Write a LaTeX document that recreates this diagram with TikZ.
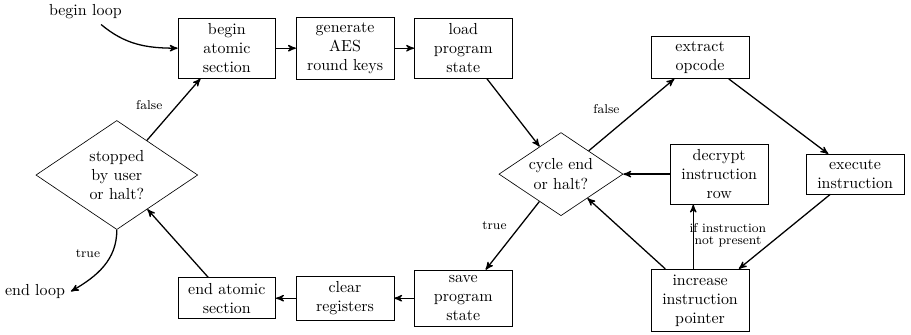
\documentclass[tikz,border=0pt]{standalone}
\usepackage{tikz}
\usetikzlibrary{arrows,shapes.geometric}

\tikzset{
  box/.style={draw, thin, rectangle, minimum width=2.15cm, align=center},
  cond/.style={draw, thin, diamond, shape aspect=1.5, inner sep=1pt, align=center},
  lbl/.style={font=\footnotesize}
}

\begin{document}
\begin{tikzpicture}[->, >=stealth', auto, node distance=2.6cm, thick]
%
\useasboundingbox (-4.99,1.06) rectangle (15.05,-6.29);
%
\node (ba) [box] {begin\\atomic\\section};
\node (gen) [box, right of=ba] {generate\\AES\\round keys};
\node (load) [box, right of=gen] {load\\program\\state};
\node (ea) [box, below of=ba, node distance=5.5cm] {end atomic\\section};
\node (clr) [box, right of=ea] {clear\\registers};
\node (save) [box, right of=clr] {save\\program\\state};
%
\node (stop) [cond, minimum width=3.56cm, minimum height=2.4cm] at (-2.42,-2.79) {stopped\\by user\\or halt?};
\node (bl) at (-3.11,0.81) {begin loop};
\node (el) at (-4.22,-5.35) {end loop};
%
\node (cyc) [cond, minimum width=2.73cm, minimum height=1.83cm] at (7.35,-2.77) {cycle end\\or halt?};
\node (dec) [box, right of=cyc, node distance=3.48cm] {decrypt\\instruction\\row};
\node (exe) [box, right of=dec, node distance=2.99cm] {execute\\instruction};
\node (ext) [box] at (10.41,-0.2) {extract\\opcode};
\node (inc) [box, below of=ext, node distance=5.35cm] {increase\\instruction\\pointer};
%
\path (bl) edge [out=-40, in=180] (ba);
\path (ba) edge (gen);
\path (gen) edge (load);
\path (load) edge (cyc);
\path (cyc) edge node [lbl, pos=0.43] {false} (ext);
\path (ext) edge (exe);
\path (exe) edge (inc);
\path (inc) edge (cyc);
\path (dec) edge (cyc);
\path ([xshift=-0.15cm]inc.north) edge node [lbl, align=center, right, xshift=-6pt, yshift=1pt] {if instruction\\[-2pt]not present} ([xshift=-0.15cm]inc.north |- dec.south);
\path (cyc) edge node [lbl, swap] {true} (save);
\path (save) edge (clr);
\path (clr) edge (ea);
\path (ea) edge (stop);
\path (stop) edge node [lbl, pos=0.4] {false} (ba);
\path (stop) edge [out=-90, in=30] node [lbl, swap, pos=0.45] {true} (el.east);
\end{tikzpicture}
\end{document}
